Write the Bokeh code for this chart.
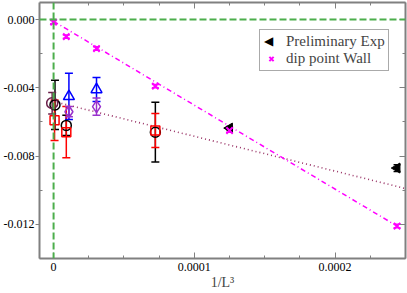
from bokeh.plotting import figure
from bokeh.models import (ColumnDataSource, Whisker, TeeHead, Span, LinearAxis,
                          FixedTicker, PrintfTickFormatter, CustomJSTickFormatter,
                          Legend, LegendItem, Range1d)
from bokeh.embed import file_html
from bokeh.resources import INLINE

# ---------------- data ----------------
# dip point Wall (magenta)
wall_x = [0.0, 9.04e-6, 3.05e-5, 7.23e-5, 1.25e-4, 2.44e-4]
wall_y = [-0.00015, -0.0010, -0.0017, -0.0039, -0.0065, -0.0121]
wall_err = [0.0001, 0.0001, 0.0001, 0.0001, 0.0001, 0.0001]
wall_fit_x = [0.0, 2.44e-4]
wall_fit_y = [-0.0001, -0.0121]

# Preliminary Exp (black left triangles)
exp_x = [1.25e-4, 2.44e-4]
exp_y = [-0.00636, -0.0087]
exp_err = [0.0001, 0.0002]

# dotted fit line
dot_x = [0.0, 2.5e-4]
dot_y = [-0.0048, -0.0099]

# black circles
bc_x = [1.0e-6, 9.04e-6, 7.23e-5]
bc_y = [-0.0050, -0.0062, -0.0066]
bc_err = [0.00144, 0.0006, 0.00175]

# red squares
rs_x = [0.7e-6, 9.04e-6, 7.23e-5]
rs_y = [-0.0059, -0.0066, -0.0065]
rs_err = [0.00118, 0.0015, 0.0010]

# blue triangles
bt_x = [1.09e-5, 3.05e-5]
bt_y = [-0.0045, -0.0041]
bt_err = [0.00136, 0.0007]

# violet diamonds
vd_x = [1.09e-5, 3.05e-5]
vd_y = [-0.0054, -0.0051]
vd_err = [0.0003, 0.0005]

# maroon circle
mc_x = [-1.0e-6]
mc_y = [-0.0049]
mc_err = [0.00063]

x_major = [0.0, 0.0001, 0.0002]
x_minor = [0.000025, 0.00005, 0.000075, 0.000125, 0.00015, 0.000175, 0.000225, 0.00025]
y_major = [-0.012, -0.008, -0.004, 0.0]
y_minor = [-0.014, -0.010, -0.006, -0.002]

legend_labels = ["Preliminary Exp", "dip point Wall"]
x_title = "1/L³"

SERIF = "Liberation Serif"
AXIS_GRAY = "#808080"
MAGENTA = "#ff00ff"
GREEN = "#4cae4c"

p = figure(width=407, height=293, output_backend="svg", toolbar_location=None,
           x_range=Range1d(-0.00001, 0.00025), y_range=Range1d(-0.014, 0.001),
           x_axis_location=None, y_axis_location=None,
           min_border_left=38, min_border_right=2, min_border_top=2, min_border_bottom=35)
p.xgrid.visible = False
p.ygrid.visible = False
p.outline_line_color = None
p.background_fill_color = "white"

xt = FixedTicker(ticks=x_major, minor_ticks=x_minor)
yt = FixedTicker(ticks=y_major, minor_ticks=y_minor)
empty = CustomJSTickFormatter(code="return ''")


def style(ax):
    ax.axis_line_color = AXIS_GRAY
    ax.axis_line_width = 2
    ax.major_tick_line_color = AXIS_GRAY
    ax.minor_tick_line_color = AXIS_GRAY
    ax.major_tick_line_width = 1
    ax.minor_tick_line_width = 1
    ax.major_label_text_font = SERIF
    ax.major_label_text_font_size = "12px"
    ax.major_label_text_color = "black"


bottom = LinearAxis(ticker=xt, formatter=CustomJSTickFormatter(
    code="if (tick == 0) {return '0';} return tick.toFixed(4);"))
style(bottom)
bottom.major_tick_in = 6
bottom.major_tick_out = 0
bottom.minor_tick_in = 3
bottom.minor_tick_out = 0
bottom.major_label_standoff = 4
bottom.axis_label = x_title
bottom.axis_label_text_font = SERIF
bottom.axis_label_text_font_size = "14px"
bottom.axis_label_text_font_style = "normal"
bottom.axis_label_standoff = 1
p.add_layout(bottom, "below")

left = LinearAxis(ticker=yt, formatter=PrintfTickFormatter(format="%.3f"))
style(left)
left.major_tick_in = 0
left.major_tick_out = 4
left.minor_tick_in = 3
left.minor_tick_out = 0
left.major_label_standoff = 1
p.add_layout(left, "left")

top = LinearAxis(ticker=xt, formatter=empty)
style(top)
top.major_tick_in = 6
top.major_tick_out = 0
top.minor_tick_in = 3
top.minor_tick_out = 0
top.major_label_standoff = 0
top.major_label_text_font_size = "0px"
p.add_layout(top, "above")

right = LinearAxis(ticker=yt, formatter=empty)
style(right)
right.major_tick_in = 6
right.major_tick_out = 0
right.minor_tick_in = 3
right.minor_tick_out = 0
right.major_label_standoff = 0
right.major_label_text_font_size = "0px"
p.add_layout(right, "right")

# green reference lines
p.add_layout(Span(location=0, dimension="width", line_color=GREEN, line_width=2, line_dash="7 3"))
p.add_layout(Span(location=0, dimension="height", line_color=GREEN, line_width=2, line_dash="7 3"))

# fit lines
p.line(dot_x, dot_y, line_color="#993366", line_width=1.6, line_dash="1 3")
p.line(wall_fit_x, wall_fit_y, line_color=MAGENTA, line_width=1.5, line_dash="5 3 1 3")


def errbars(xs, ys, es, color, size=8):
    src = ColumnDataSource(dict(x=xs, lo=[a - b for a, b in zip(ys, es)],
                                hi=[a + b for a, b in zip(ys, es)]))
    w = Whisker(base="x", lower="lo", upper="hi", source=src, dimension="height",
                line_color=color, line_width=1.5,
                lower_head=TeeHead(size=size, line_color=color, line_width=1.5),
                upper_head=TeeHead(size=size, line_color=color, line_width=1.5))
    p.add_layout(w)


errbars(bc_x, bc_y, bc_err, "black")
errbars(rs_x, rs_y, rs_err, "red")
errbars(bt_x, bt_y, bt_err, "blue")
errbars(vd_x, vd_y, vd_err, "#9932cc")
errbars(mc_x, mc_y, mc_err, "#6b1f4a")
errbars(wall_x, wall_y, wall_err, MAGENTA, size=7)
errbars(exp_x, exp_y, exp_err, "black", size=7)

p.scatter(bc_x, bc_y, marker="circle", size=10, fill_color=None, line_color="black", line_width=1.5)
p.scatter(rs_x, rs_y, marker="square", size=9, fill_color=None, line_color="red", line_width=1.5)
p.scatter(bt_x, bt_y, marker="triangle", size=11, fill_color=None, line_color="blue", line_width=1.5)
p.scatter(vd_x, vd_y, marker="diamond", size=12, fill_color=None, line_color="#9932cc", line_width=1.5)
p.scatter(mc_x, mc_y, marker="circle", size=11, fill_color=None, line_color="#6b1f4a", line_width=1.5)

# left-pointing filled triangles (rotated by 90 degrees)
p.scatter(exp_x, exp_y, marker="triangle", angle=1.5708, size=10,
          fill_color="black", line_color="black")
r_wall = p.scatter(wall_x, wall_y, marker="x", size=9, line_color=MAGENTA, line_width=2)

# invisible renderer used only for legend rows whose glyph is drawn as text
r_blank = p.scatter([], [], marker="triangle", size=1, fill_alpha=0, line_alpha=0)

LX, LY = 220, 187
legend = Legend(items=[LegendItem(label=legend_labels[0], renderers=[r_blank]),
                       LegendItem(label=legend_labels[1], renderers=[r_wall])],
                location=(LX, LY))
legend.label_text_font = SERIF
legend.label_text_font_size = "15px"
legend.label_height = 15
legend.glyph_height = 15
legend.glyph_width = 16
legend.label_standoff = 7
legend.padding = 3
legend.spacing = 0
legend.margin = 0
legend.border_line_color = "#555555"
legend.border_line_width = 1
legend.background_fill_color = "white"
legend.background_fill_alpha = 1
p.add_layout(legend, "center")

# overlay legend carrying the left-pointing triangle symbol
tri_legend = Legend(items=[LegendItem(label="◀", renderers=[r_blank])],
                    location=(LX + 5, LY + 23))
tri_legend.label_text_font = "DejaVu Sans"
tri_legend.label_text_font_size = "12px"
tri_legend.label_text_color = "black"
tri_legend.label_height = 15
tri_legend.glyph_height = 15
tri_legend.glyph_width = 0
tri_legend.label_standoff = 0
tri_legend.padding = 0
tri_legend.spacing = 0
tri_legend.margin = 0
tri_legend.border_line_color = None
tri_legend.background_fill_alpha = 0
p.add_layout(tri_legend, "center")

open("out.html", "w").write(file_html(p, INLINE))
